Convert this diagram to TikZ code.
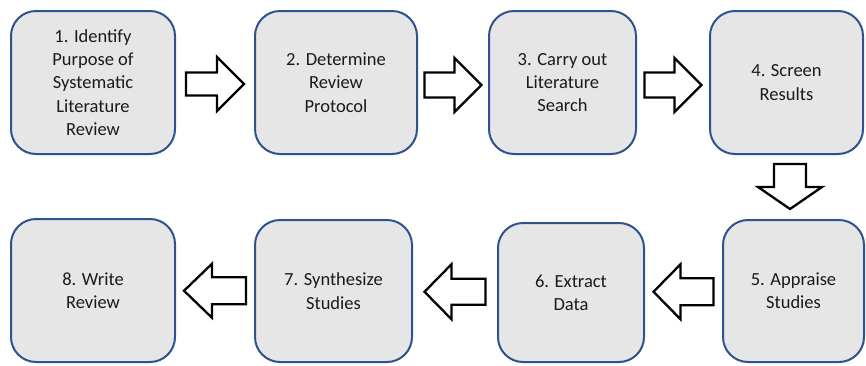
\documentclass[tikz,border=0pt]{standalone}
\usepackage{fontspec}
\setmainfont{Carlito}
\usetikzlibrary{calc}
\definecolor{boxfill}{HTML}{E6E6E6}
\definecolor{boxline}{HTML}{2F528F}
\definecolor{txt}{HTML}{1A1A1A}
\tikzset{
  stepbox/.style={draw=boxline, line width=2pt, fill=boxfill, rounded corners=25pt,
    align=center, text=txt, font=\fontsize{18.5pt}{23.3pt}\selectfont, inner sep=0pt,
    execute at begin node={\rule{0pt}{19pt}}},
  arrowline/.style={draw=black, line width=2.3pt, fill=white, line join=miter},
  pics/blockarrow/.style n args={4}{code={
    \draw[arrowline] (-#1/2,-#2) -- (#1/2-#4,-#2) -- (#1/2-#4,-#3) -- (#1/2,0)
      -- (#1/2-#4,#3) -- (#1/2-#4,#2) -- (-#1/2,#2) -- cycle;}}
}
\begin{document}
\begin{tikzpicture}[x=1pt,y=-1pt]
\useasboundingbox (0,0) rectangle (866,365);
\node[stepbox, minimum width=164pt, minimum height=143pt] (b1) at (93,82.5) {1. Identify\\Purpose of\\Systematic\\Literature\\Review};
\node[stepbox, minimum width=162pt, minimum height=143pt] (b2) at (336,82.5) {2. Determine\\Review\\Protocol};
\node[stepbox, minimum width=147pt, minimum height=143pt] (b3) at (562.5,82.5) {3. Carry out\\Literature\\Search};
\node[stepbox, minimum width=153pt, minimum height=143pt] (b4) at (786.5,82.5) {4. Screen\\Results};
\node[stepbox, minimum width=141pt, minimum height=142pt] (b5) at (793.5,291) {5. Appraise\\Studies};
\node[stepbox, minimum width=146pt, minimum height=139pt] (b6) at (571,292.5) {6. Extract\\Data};
\node[stepbox, minimum width=157pt, minimum height=142pt] (b7) at (333.5,291) {7. Synthesize\\Studies};
\node[stepbox, minimum width=164pt, minimum height=143pt] (b8) at (93,290.5) {8. Write\\Review};
\pic at ([yshift=-1.5pt]$(b1.east)!0.5!(b2.west)$) {blockarrow={58}{11.5}{27}{27}};
\pic at ([yshift=-2.5pt]$(b2.east)!0.5!(b3.west)$) {blockarrow={57}{12.5}{27}{27}};
\pic at ([yshift=-2.5pt]$(b3.east)!0.5!(b4.west)$) {blockarrow={57}{12.5}{27}{27}};
\pic[rotate=-90] at (790,186.5) {blockarrow={45}{16}{32}{22}};
\pic[rotate=180] at ($(b5.west)!0.5!(b6.east)$) {blockarrow={60}{13.5}{27.5}{27}};
\pic[rotate=180] at ($(b6.west)!0.5!(b7.east)$) {blockarrow={61}{13}{27.5}{27}};
\pic[rotate=180] at ($(b7.west)!0.5!(b8.east)$) {blockarrow={62}{13.5}{27}{28}};
\end{tikzpicture}
\end{document}
